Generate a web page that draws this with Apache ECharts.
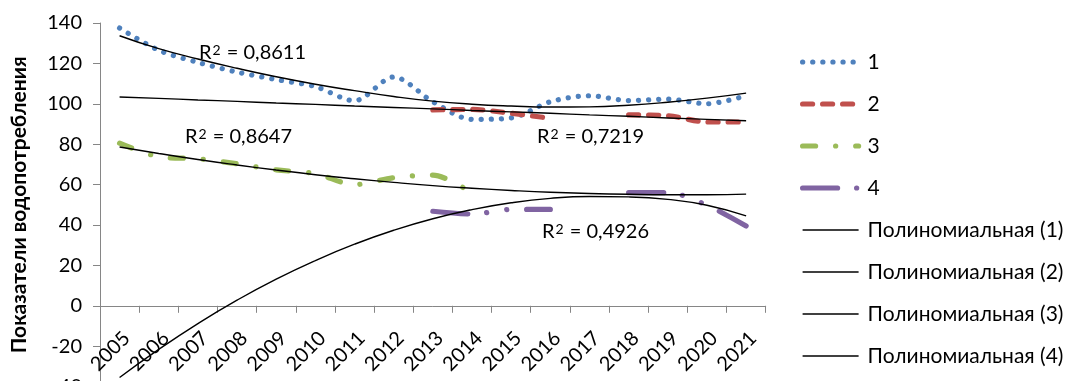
<!DOCTYPE html>
<html><head><meta charset="utf-8">
<script src="https://cdn.jsdelivr.net/npm/echarts@6/dist/echarts.min.js"></script>
<style>html,body{margin:0;padding:0;background:#fff}#c{width:1067px;height:381px}</style>
</head><body><div id="c"></div>
<script>
const years = ['2005','2006','2007','2008','2009','2010','2011','2012','2013','2014','2015','2016','2017','2018','2019','2020','2021'];
const series1 = [137.5, 126.5, 120.5, 115.7, 112, 108.5, 101.5, 113.3, 101, 92.3, 93, 101, 104, 101.6, 102.3, 100, 104];
const series2 = [null, null, null, null, null, null, null, null, 97, 97.2, 95.3, 92.8, null, 94.5, 94.1, 91, 91];
const series3 = [80.5, 73.8, 72.8, 70.3, 67.3, 65.4, 60, 63.4, 64.7, 55.8, null, null, null, null, null, null, null];
const series4 = [null, null, null, null, null, null, null, null, 46.8, 45.4, 47.7, 47.7, null, 56, 56, 49.8, 39.5];
const trend1 = [133.7, 127.3, 122.2, 117.6, 113.4, 109.7, 106.5, 103.6, 101.3, 99.8, 98.9, 98.4, 98.5, 99.3, 100.8, 102.8, 105.3];
const trend2 = [103.4, 102.7, 101.9, 101.2, 100.4, 99.7, 98.9, 98.2, 97.5, 96.7, 96.0, 95.3, 94.5, 93.8, 93.0, 92.3, 91.6];
const trend3 = [78.6, 75.4, 72.4, 69.7, 67.2, 64.9, 62.9, 61.1, 59.5, 58.2, 57.1, 56.2, 55.6, 55.2, 55.0, 55.0, 55.3];
const trend4 = [-35.5, -21.6, -8.8, 2.8, 13.2, 22.4, 30.5, 37.4, 43.1, 47.6, 51.0, 53.2, 54.1, 53.9, 52.7, 49.8, 44.5];
const yTicks = {min: -40, max: 140, step: 20};
const seriesNames = ['1', '2', '3', '4'];
const trendNames = ['Полиномиальная (1)', 'Полиномиальная (2)', 'Полиномиальная (3)', 'Полиномиальная (4)'];
const r2Values = ['0,8611', '0,8647', '0,7219', '0,4926'];

const FONT = 'Lato';
const FS = 20;
const colors = ['#4F81BD', '#C0504D', '#9BBB59', '#8064A2'];
const dashes = [[0.1, 10], [10, 10], [13, 20, 0.1, 20], [35, 19, 0.1, 20, 0.1, 20]];
const dataArr = [series1, series2, series3, series4];
const trendArr = [trend1, trend2, trend3, trend4];

const series = [];
dataArr.forEach((d, i) => {
  series.push({
    name: seriesNames[i], type: 'line', data: d, smooth: 0.3, symbol: 'none', connectNulls: false,
    lineStyle: {color: colors[i], width: 5.2, type: dashes[i], cap: 'round', join: 'round'},
    itemStyle: {color: colors[i]}, z: 2
  });
});
trendArr.forEach((d, i) => {
  series.push({
    name: trendNames[i], type: 'line', data: d, smooth: true, symbol: 'none',
    lineStyle: {color: '#000', width: 1.4, type: 'solid'},
    itemStyle: {color: '#000'}, z: 3
  });
});

const gridTop = 23, gridH = 363.6;
// x axis crosses the value axis at 0
const zeroOffset = -gridH * (0 - yTicks.min) / (yTicks.max - yTicks.min);

const r2Pos = [[199, 53], [185, 137], [537, 137], [542, 232]];
const chart = echarts.init(document.getElementById('c'), null, {renderer: 'canvas'});
chart.setOption({
  animation: false,
  backgroundColor: '#fff',
  grid: {left: 100, top: gridTop, width: 665.7, height: gridH, containLabel: false, outerBoundsMode: 'none'},
  xAxis: {
    type: 'category', data: years, boundaryGap: true, offset: zeroOffset,
    axisLine: {onZero: false, lineStyle: {color: '#868686', width: 1}},
    axisTick: {show: true, length: 7, interval: 0, lineStyle: {color: '#868686'}},
    axisLabel: {interval: 0, rotate: 45, margin: 22, verticalAlign: 'top', fontFamily: FONT, fontSize: FS, color: '#000'},
    splitLine: {show: false}
  },
  yAxis: {
    type: 'value', min: yTicks.min, max: yTicks.max, interval: yTicks.step,
    axisLine: {show: true, lineStyle: {color: '#868686', width: 1}},
    axisTick: {show: true, length: 7, lineStyle: {color: '#868686'}},
    splitLine: {show: false},
    axisLabel: {margin: 18, fontFamily: FONT, fontSize: FS, color: '#000'},
    name: 'Показатели водопотребления', nameLocation: 'middle', nameRotate: 90, nameGap: 70,
    nameTextStyle: {fontFamily: FONT, fontWeight: 'bold', fontSize: 21, color: '#000'}
  },
  legend: {
    orient: 'vertical', left: 800, top: 51.5, padding: 0, itemWidth: 56, itemHeight: 14, itemGap: 21,
    itemStyle: {opacity: 0}, lineStyle: {width: 'inherit'},
    textStyle: {fontFamily: FONT, fontSize: 21, color: '#000', lineHeight: 20, padding: [0, 0, 0, 4]},
    data: seriesNames.concat(trendNames)
  },
  graphic: r2Values.map((v, i) => ({
    type: 'text', x: r2Pos[i][0], y: r2Pos[i][1], silent: true,
    style: {
      text: 'R{s|2} = ' + v, fontFamily: FONT, fontSize: FS, fill: '#000', verticalAlign: 'middle',
      rich: {s: {fontFamily: FONT, fontSize: 14, fill: '#000', verticalAlign: 'top', padding: [0, 1, 0, 1]}}
    }
  })),
  series: series
});
</script></body></html>
